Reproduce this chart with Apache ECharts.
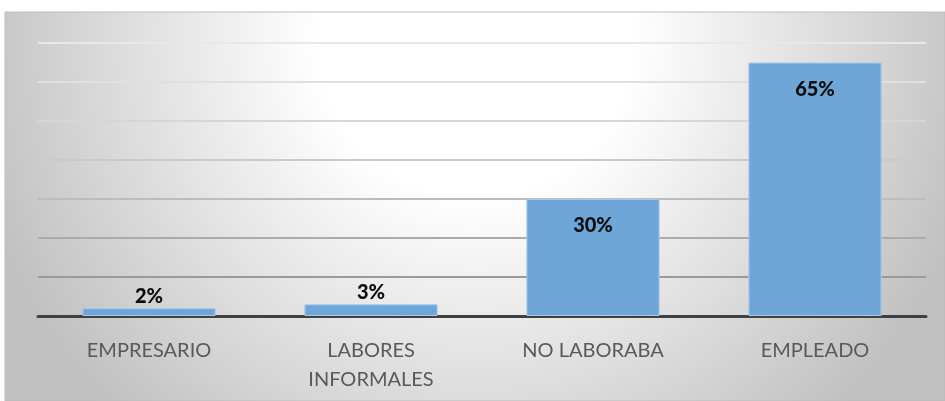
<!DOCTYPE html>
<html>
<head>
<meta charset="utf-8">
<script src="https://cdn.jsdelivr.net/npm/echarts@6/dist/echarts.min.js"></script>
<style>html,body{margin:0;padding:0;background:#fff;}#c{width:945px;height:401px;}</style>
</head>
<body>
<div id="c"></div>
<script>
const categories = ['EMPRESARIO', 'LABORES\nINFORMALES', 'NO LABORABA', 'EMPLEADO'];
const values = [2, 3, 30, 65];
const labelPositions = ['top', 'top', 'insideTop', 'insideTop'];

const chart = echarts.init(document.getElementById('c'), null, {renderer: 'canvas'});
const FONT = 'Lato, "Open Sans", sans-serif';
chart.setOption({
  animation: false,
  graphic: [{
    type: 'rect', z: -10, silent: true,
    shape: {x: 5, y: 12, width: 940, height: 389},
    style: {
      fill: new echarts.graphic.RadialGradient(475, 40, 520, [
        {offset: 0, color: '#ffffff'},
        {offset: 0.3, color: '#ffffff'},
        {offset: 1, color: '#c0c0c0'}
      ], true),
      stroke: '#bdbdbd', lineWidth: 1
    }
  }],
  grid: {left: 38, right: 19, top: 43, bottom: 85, containLabel: false},
  xAxis: {
    type: 'category',
    data: categories,
    axisLine: {lineStyle: {color: '#404040', width: 3}},
    axisTick: {show: false},
    axisLabel: {color: '#595959', fontSize: 20, fontFamily: FONT, margin: 20, lineHeight: 29, interval: 0}
  },
  yAxis: {
    type: 'value', min: 0, max: 70, interval: 10,
    axisLine: {show: false}, axisTick: {show: false}, axisLabel: {show: false},
    splitLine: {lineStyle: {width: 2, color: ['#999999', '#9a9a9a', '#ababab', '#bcbcbc', '#cacaca', '#d6d6d6', '#e0e0e0', '#e8e8e8']}}
  },
  series: [{
    type: 'bar',
    barWidth: '60%',
    data: values.map((v, i) => ({
      value: v,
      label: {position: labelPositions[i], distance: labelPositions[i] === 'top' ? 2 : 17}
    })),
    itemStyle: {color: '#6fa6d8', borderColor: '#a8c9ea', borderWidth: 1},
    label: {
      show: true, formatter: '{c}%', color: '#0d0d0d', fontWeight: 900, fontSize: 20, fontFamily: FONT
    }
  }]
});
</script>
</body>
</html>
